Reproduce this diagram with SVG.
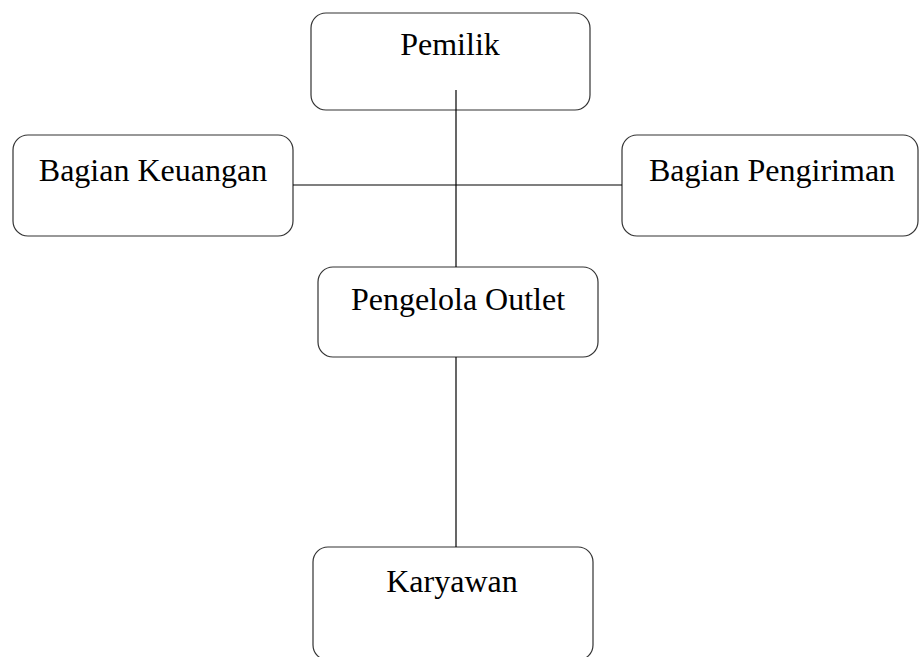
<svg xmlns="http://www.w3.org/2000/svg" width="919" height="657" viewBox="0 0 919 657">
<style>
.box{fill:#fff;stroke:#333;stroke-width:1.2}
.lbl{font-family:"Liberation Serif","Times New Roman",serif;font-size:32px;fill:#000;text-anchor:middle}
.conn{stroke:#000;stroke-width:1.2;fill:none}
</style>
<rect width="919" height="657" fill="#fff"/>
<g id="pemilik">
<rect class="box" x="311" y="13" width="279" height="97" rx="15"/>
<text class="lbl" x="450" y="55">Pemilik</text>
</g>
<g id="bagian-keuangan">
<rect class="box" x="13" y="135" width="280" height="101" rx="15"/>
<text class="lbl" x="153" y="181">Bagian Keuangan</text>
</g>
<g id="bagian-pengiriman">
<rect class="box" x="622" y="135" width="296" height="101" rx="15"/>
<text class="lbl" x="772" y="181">Bagian Pengiriman</text>
</g>
<g id="pengelola-outlet">
<rect class="box" x="318" y="267" width="280" height="90" rx="15"/>
<text class="lbl" x="458" y="310">Pengelola Outlet</text>
</g>
<g id="karyawan">
<rect class="box" x="313" y="547" width="280" height="113" rx="15"/>
<text class="lbl" x="452" y="592">Karyawan</text>
</g>
<g id="connectors">
<line class="conn" x1="456" y1="90" x2="456" y2="267"/>
<line class="conn" x1="293" y1="185" x2="622" y2="185"/>
<line class="conn" x1="456" y1="357" x2="456" y2="547"/>
</g>
</svg>
